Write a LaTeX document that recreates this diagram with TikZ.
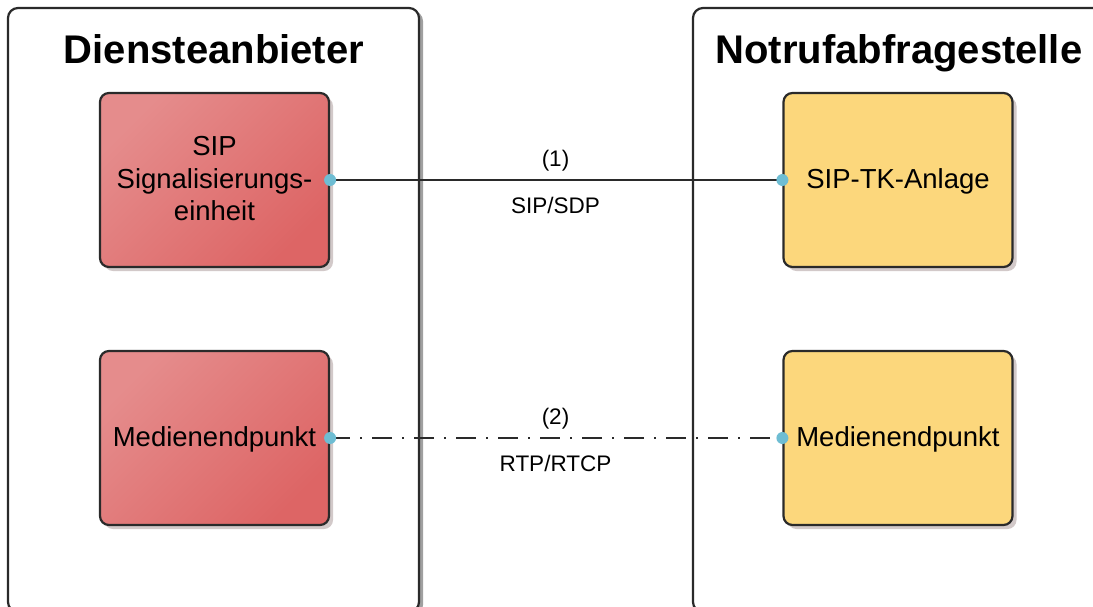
\documentclass[tikz,border=0pt]{standalone}
\usepackage{fontspec}
\setmainfont{Liberation Sans}
\usetikzlibrary{shadows}
\definecolor{redA}{HTML}{E58C8C}
\definecolor{redM}{HTML}{DF6F6F}
\definecolor{redB}{HTML}{DD6565}
\definecolor{yel}{HTML}{FCD77C}
\definecolor{bord}{HTML}{2A2A2A}
\definecolor{dotc}{HTML}{6EBDD3}
\definecolor{shin}{HTML}{D2C9C9}
\definecolor{shout}{HTML}{A0A0A0}
\tikzset{
  outerbox/.style={draw=bord, line width=2.2pt, fill=white, rounded corners=10pt,
    minimum width=411pt, minimum height=604pt, inner sep=0pt,
    drop shadow={shadow xshift=4pt, shadow yshift=-3pt, fill=shout, opacity=1}},
  title/.style={font=\fontsize{40}{44}\selectfont\bfseries, anchor=base},
  redbox/.style={draw=bord, line width=2.2pt, rounded corners=9pt,
    left color=redA, middle color=redM, right color=redB, shading angle=45,
    minimum width=229pt, minimum height=174pt, inner sep=0pt,
    drop shadow={shadow xshift=4pt, shadow yshift=-4pt, fill=shin, opacity=1}},
  yelbox/.style={draw=bord, line width=2.2pt, rounded corners=9pt, fill=yel,
    minimum width=229pt, minimum height=174pt, inner sep=0pt,
    drop shadow={shadow xshift=4pt, shadow yshift=-4pt, fill=shin, opacity=1}},
  boxtext/.style={font=\fontsize{27.5}{32.5}\selectfont, align=center},
  lbl/.style={font=\fontsize{22.5}{26}\selectfont, anchor=base},
  conn/.style={draw=bord, line width=2pt},
  dotted conn/.style={conn, dash pattern=on 20pt off 10pt on 2pt off 10pt},
  portdot/.style={circle, fill=dotc, minimum size=12pt, inner sep=0pt}
}
\begin{document}
\begin{tikzpicture}[x=1pt,y=-1pt]
\useasboundingbox (0,0) rectangle (1093,606);
\begin{scope}
\clip (0,0) rectangle (1093,606);
\node[outerbox] (prov) at (213.5,310) {};
\node[outerbox, minimum width=417pt] (psap) at (901.5,310) {};
\end{scope}
\node[title] (tprov) at (214,63) {Diensteanbieter};
\node[title] (tpsap) at (899,63) {Notrufabfragestelle};

\node[redbox] (sig) at (214.5,180) {};
\node[boxtext] at (214.5,179) {SIP\\Signalisierungs-\\einheit};
\node[redbox] (medA) at (214.5,438) {};
\node[boxtext] at (214.5,439) {Medienendpunkt};

\node[yelbox] (pbx) at (898,180) {};
\node[boxtext] at (898,181) {SIP-TK-Anlage};
\node[yelbox] (medB) at (898,438) {};
\node[boxtext] at (898,439) {Medienendpunkt};

\draw[conn] (sig.east) -- (pbx.west);
\draw[dotted conn] (medA.east) -- (medB.west);

\node[portdot] (p1) at (sig.east) {};
\node[portdot] (p2) at (pbx.west) {};
\node[portdot] (p3) at (medA.east) {};
\node[portdot] (p4) at (medB.west) {};

\node[lbl] (l1) at (555.5,166) {(1)};
\node[lbl] (l1b) at (555.5,213) {SIP/SDP};
\node[lbl] (l2) at (555.5,424) {(2)};
\node[lbl] (l2b) at (555.5,471) {RTP/RTCP};
\end{tikzpicture}
\end{document}
